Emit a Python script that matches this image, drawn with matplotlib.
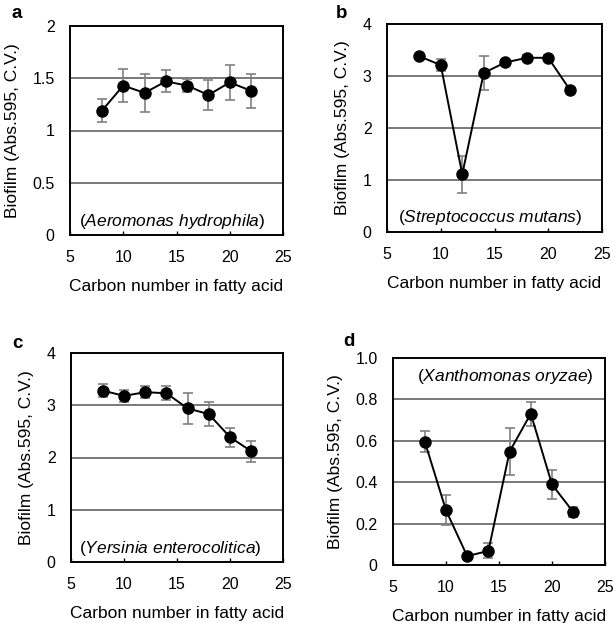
import matplotlib
matplotlib.use("Agg")
import matplotlib.pyplot as plt

plt.rcParams['font.family'] = ['Liberation Sans', 'DejaVu Sans']
plt.rcParams['mathtext.fontset'] = 'custom'
plt.rcParams['mathtext.rm'] = 'Liberation Sans'
plt.rcParams['mathtext.it'] = 'Liberation Sans:italic'

carbon = [8, 10, 12, 14, 16, 18, 20, 22]

a_vals = [1.19, 1.43, 1.36, 1.47, 1.43, 1.34, 1.46, 1.38]
a_err = [0.11, 0.155, 0.18, 0.105, 0.06, 0.145, 0.165, 0.165]

b_vals = [3.38, 3.21, 1.11, 3.06, 3.26, 3.35, 3.35, 2.74]
b_err = [0.05, 0.11, 0.36, 0.33, 0.05, 0.05, 0.05, 0.05]

c_vals = [3.28, 3.18, 3.25, 3.23, 2.94, 2.83, 2.39, 2.12]
c_err = [0.12, 0.11, 0.12, 0.13, 0.30, 0.23, 0.18, 0.20]

d_vals = [0.596, 0.264, 0.043, 0.068, 0.548, 0.731, 0.389, 0.256]
d_err = [0.05, 0.072, 0.005, 0.036, 0.112, 0.058, 0.07, 0.022]

panels = [
    dict(letter='a', vals=a_vals, err=a_err, ylim=(0, 2), yticks=[0, 0.5, 1, 1.5, 2],
         yticklabels=['0', '0.5', '1', '1.5', '2'], species='Aeromonas hydrophila',
         txy=(0.48, 0.065), rect=(70, 26, 283, 235), lpos=(12, 14)),
    dict(letter='b', vals=b_vals, err=b_err, ylim=(0, 4), yticks=[0, 1, 2, 3, 4],
         yticklabels=['0', '1', '2', '3', '4'], species='Streptococcus mutans',
         txy=(0.48, 0.07), rect=(387, 24, 602, 232), lpos=(336, 14)),
    dict(letter='c', vals=c_vals, err=c_err, ylim=(0, 4), yticks=[0, 1, 2, 3, 4],
         yticklabels=['0', '1', '2', '3', '4'], species='Yersinia enterocolitica',
         txy=(0.47, 0.065), rect=(71, 353, 283, 562), lpos=(12, 344)),
    dict(letter='d', vals=d_vals, err=d_err, ylim=(0, 1.0), yticks=[0, 0.2, 0.4, 0.6, 0.8, 1.0],
         yticklabels=['0', '0.2', '0.4', '0.6', '0.8', '1.0'], species='Xanthomonas oryzae',
         txy=(0.53, 0.91), rect=(393, 358, 605, 565), lpos=(343, 342)),
]

W, H = 615, 623
fig = plt.figure(figsize=(W / 100, H / 100), dpi=100)

for p in panels:
    x0, y0, x1, y1 = p['rect']
    ax = fig.add_axes([x0 / W, 1 - y1 / H, (x1 - x0) / W, (y1 - y0) / H])
    ax.set_xlim(5, 25)
    ax.set_ylim(*p['ylim'])
    ax.set_xticks([5, 10, 15, 20, 25])
    ax.set_yticks(p['yticks'])
    ax.set_yticklabels(p['yticklabels'])
    for yt in p['yticks'][1:-1]:
        ax.axhline(yt, color='#555555', lw=1.1, zorder=1)
    ax.errorbar(carbon, p['vals'], yerr=p['err'], fmt='none', ecolor='#808080',
                elinewidth=1.2, capsize=3.5, capthick=1.2, zorder=2)
    ax.plot(carbon, p['vals'], color='black', lw=1.4, marker='o', markersize=8,
            markerfacecolor='black', markeredgecolor='black', zorder=3)
    for s in ax.spines.values():
        s.set_linewidth(1.4)
        s.set_color('black')
    ax.tick_params(axis='x', direction='in', length=3, width=1, labelsize=11.5, pad=11)
    ax.tick_params(axis='y', length=0, labelsize=11.5, pad=11)
    ax.set_xlabel('Carbon number in fatty acid', fontsize=12.5, labelpad=10)
    ax.set_ylabel('Biofilm (Abs.595, C.V.)', fontsize=12.5, labelpad=9)
    ax.text(p['txy'][0], p['txy'][1],
            '(' + r'$\it{' + p['species'].replace(' ', r'\ ') + '}$' + ')',
            transform=ax.transAxes, ha='center', va='center', fontsize=12.5)
    fig.text(p['lpos'][0] / W, 1 - p['lpos'][1] / H, p['letter'], fontsize=13.5,
             fontweight='bold', ha='left', va='center')

fig.savefig('out.png', dpi=100)
